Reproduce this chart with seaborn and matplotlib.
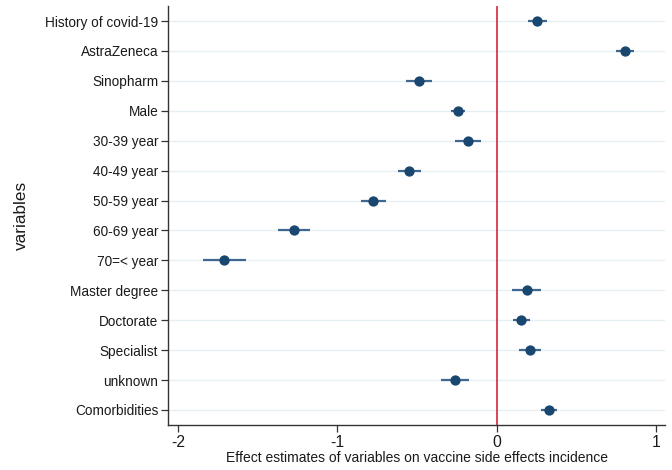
import numpy as np
import pandas as pd
import matplotlib
matplotlib.use("Agg")
import matplotlib.pyplot as plt
import seaborn as sns

variables = ["History of covid-19", "AstraZeneca", "Sinopharm", "Male",
             "30-39 year", "40-49 year", "50-59 year", "60-69 year",
             "70=< year", "Master degree", "Doctorate", "Specialist",
             "unknown", "Comorbidities"]
estimate = [0.256, 0.807, -0.488, -0.245, -0.18, -0.549, -0.776, -1.272,
            -1.711, 0.189, 0.151, 0.210, -0.262, 0.330]
ci_low = [0.197, 0.753, -0.570, -0.285, -0.26, -0.620, -0.851, -1.371,
          -1.847, 0.099, 0.101, 0.138, -0.350, 0.281]
ci_high = [0.317, 0.862, -0.409, -0.201, -0.10, -0.478, -0.698, -1.170,
           -1.576, 0.279, 0.208, 0.281, -0.172, 0.380]
xticks = [-2, -1, 0, 1]

df = pd.DataFrame({"variable": variables, "estimate": estimate,
                   "low": ci_low, "high": ci_high})
df["pos"] = np.arange(len(df))

sns.set_theme(style="white")
plt.rcParams["font.family"] = ["Liberation Sans", "DejaVu Sans"]

fig, ax = plt.subplots(figsize=(6.72, 4.70), dpi=100)
fig.subplots_adjust(left=0.25, right=0.99, top=0.987, bottom=0.096)

for p in df["pos"]:
    ax.axhline(p, color="#e6eff1", lw=1.0, zorder=0)

ax.axvline(0, color="#d7263d", lw=1.2, zorder=1)
ax.hlines(df["pos"], df["low"], df["high"], color="#3f6790", lw=1.6, zorder=2)
sns.scatterplot(data=df, x="estimate", y="pos", ax=ax, color="#1a476f",
                s=55, edgecolor="#1a476f", linewidth=0, zorder=3, legend=False)

ax.set_ylim(len(df) - 0.5, -0.5)
ax.set_xlim(-2.065, 1.06)
ax.set_yticks(df["pos"])
ax.set_yticklabels(df["variable"], fontsize=9.8, color="#1a1a1a")
ax.set_xticks(xticks)
ax.set_xticklabels([str(t) for t in xticks], fontsize=11.3, color="#1a1a1a")
ax.tick_params(axis="both", direction="out", length=5, width=0.9,
               color="#333333", left=True, bottom=True, pad=2)

sns.despine(ax=ax)
for s in ["left", "bottom"]:
    ax.spines[s].set_color("#333333")
    ax.spines[s].set_linewidth(1.0)

ax.set_xlabel("Effect estimates of variables on vaccine side effects incidence",
              fontsize=10, color="#1a1a1a", labelpad=1)
ax.set_ylabel("variables", fontsize=12.3, color="#1a1a1a", labelpad=12)

plt.savefig("out.png", dpi=100)
plt.close()
